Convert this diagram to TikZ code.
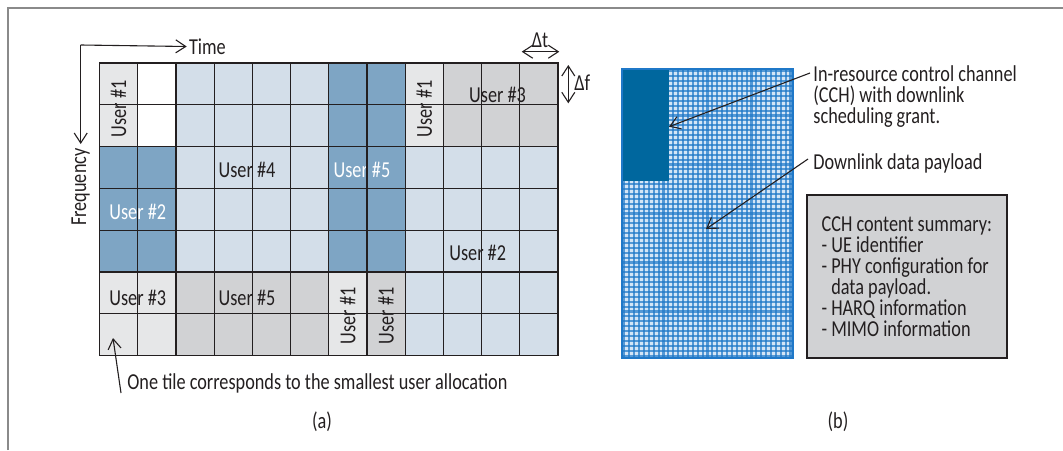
\documentclass[tikz,border=0pt]{standalone}
\usepackage{fontspec}
\setmainfont{Carlito}[FakeStretch=0.80]
\usetikzlibrary{arrows.meta, positioning}

\definecolor{framegray}{HTML}{8A8A8A}
\definecolor{inkgray}{HTML}{231F20}
\definecolor{tilepale}{HTML}{E6E7E8}
\definecolor{tilegray}{HTML}{D1D2D4}
\definecolor{tilesky}{HTML}{D3DEE9}
\definecolor{tilesteel}{HTML}{7EA5C4}
\definecolor{cchblue}{HTML}{00679E}
\definecolor{payloadbase}{HTML}{D4E5F6}
\definecolor{payloadline}{HTML}{1F78C8}

\begin{document}
\begin{tikzpicture}[
    x=0.5pt, y=-0.5pt,
    font=\fontsize{11.4}{10.5}\selectfont, text=inkgray,
    note/.style={inner sep=0pt},
    userlabel/.style={inner sep=0pt},
    userwhite/.style={userlabel, text=white},
    uservert/.style={userlabel, rotate=90},
    gridline/.style={inkgray, line width=0.6pt, line cap=rect},
    weave/.style={payloadline, opacity=0.7, line width=1.05pt},
    pointer/.style={-{Straight Barb[length=5pt, width=6.5pt]}, line width=0.55pt, inkgray},
    twoway/.style={{Straight Barb[length=5pt, width=6.5pt]}-{Straight Barb[length=5pt, width=6.5pt]}, line width=0.55pt, inkgray},
    summary/.style={rectangle, draw=inkgray, line width=0.75pt, fill=tilegray, minimum width=100pt, minimum height=81.5pt, align=left, inner sep=0pt},
]
\useasboundingbox (0,0) rectangle (1063,450);

% Frame
\draw[framegray, line width=1pt] (7.5,450) -- (7.5,7.5) -- (1063,7.5);

% (a) resource grid
\begin{scope}[shift={(49.75pt,-31.5pt)}, x=19.1pt, y=-20.9pt]
\fill[tilepale] (0,0) rectangle (1,2) (8,0) rectangle (9,2) (0,5) rectangle (2,7) (6,5) rectangle (7,7);
\fill[white] (1,0) rectangle (2,2);
\fill[tilesky] (2,0) rectangle (6,5) (8,2) rectangle (12,7);
\fill[tilesteel] (0,2) rectangle (2,5) (6,0) rectangle (8,5);
\fill[tilegray] (9,0) rectangle (12,2) (2,5) rectangle (6,7) (7,5) rectangle (8,7);

% Users
\node[uservert] (userA) at (0.5,1.1) {User \#1};
\node[uservert] (userB) at (8.5,1.1) {User \#1};
\node[uservert] (userC) at (6.5,6.05) {User \#1};
\node[uservert] (userD) at (7.5,6.05) {User \#1};
\node[userwhite] (userE) at (1.0,3.56) {User \#2};
\node[userlabel] (userF) at (9.9,4.55) {User \#2};
\node[userlabel] (userG) at (10.42,0.77) {User \#3};
\node[userlabel] (userH) at (1.0,5.62) {User \#3};
\node[userlabel] (userI) at (3.86,2.56) {User \#4};
\node[userwhite] (userJ) at (6.87,2.56) {User \#5};
\node[userlabel] (userK) at (3.86,5.62) {User \#5};

\foreach \c in {0,...,12} \draw[gridline] (\c,0) -- (\c,7);
\foreach \r in {0,...,7} \draw[gridline] (0,\r) -- (12,\r);
\end{scope}

% Axes
\coordinate (origin) at (80.7,45);
\node[note, inner xsep=1pt, anchor=west] (time) at (186.7,46.5) {Time};
\node[note, rotate=90, anchor=east, inner xsep=2pt] (freq) at (80.7,144) {Frequency};
\draw[pointer] (origin) -- (time.west);
\draw[pointer] (origin) -- (freq.east);

% Tile size
\coordinate (dtleft) at (521.7,51.7);
\coordinate (dtright) at (559.3,51.7);
\coordinate (dftop) at (568.3,65);
\coordinate (dfbottom) at (568.3,103.3);
\draw[twoway] (dtleft) -- (dtright);
\draw[twoway] (dftop) -- (dfbottom);
\node[note] (dt) at (540,40) {Δt};
\node[note, anchor=west] (df) at (574,83) {Δf};

% Smallest allocation
\coordinate (tiletip) at (113,338);
\node[note, anchor=west] (tilenote) at (127,383) {One tile corresponds to the smallest user allocation};
\draw[pointer] ([shift={(-3pt,-5pt)}]tilenote.west) -- (tiletip);

% (b) downlink resource
\fill[payloadbase] (622,69) rectangle (793,358);
\foreach \k in {0,...,34} \draw[weave] ({624.4+4.886*\k},69) -- ({624.4+4.886*\k},358);
\foreach \k in {0,...,58} \draw[weave] (622,{71.4+4.9*\k}) -- (793,{71.4+4.9*\k});
\fill[cchblue] (622,69) rectangle (669,180.7);
\draw[payloadline, line width=0.75pt] (622,69) rectangle (793,358);
\coordinate (cchtip) at (669,126.7);
\coordinate (paytip) at (706,229);

\node[note, anchor=north west, align=left] (cchnote) at (813,65) {In-resource control channel\\(CCH) with downlink\\scheduling grant.};
\node[note, anchor=west] (paynote) at (813,163) {Downlink data payload};
\draw[pointer] ([shift={(-1.5pt,-4pt)}]cchnote.north west) -- (cchtip);
\draw[pointer] ([shift={(-2.5pt,2pt)}]paynote.west) -- (paytip);

\node[summary, anchor=north west] (summary) at (806,194) {CCH content summary:\\- UE identifier\\- PHY configuration for\\\phantom{- }data payload.\\- HARQ information\\- MIMO information};

% Captions
\node[note] (capa) at (322,422) {(a)};
\node[note] (capb) at (838,422) {(b)};
\end{tikzpicture}
\end{document}
